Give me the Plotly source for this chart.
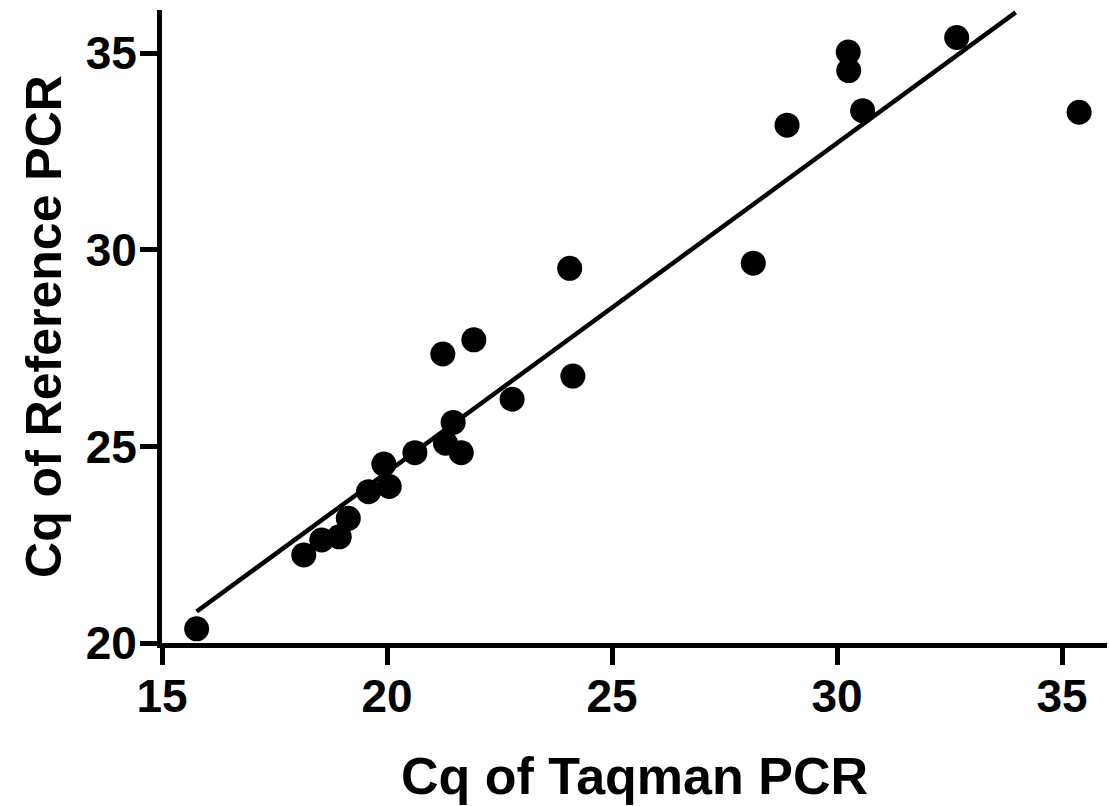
import plotly.graph_objects as go

taqman_cq = [15.77, 18.15, 18.55, 18.94, 19.14, 19.59, 20.05, 19.93, 20.62, 21.30,
             21.47, 21.65, 22.78, 21.24, 21.93, 24.13, 24.06, 28.14, 28.89, 30.25,
             30.26, 30.57, 32.66, 35.38]
reference_cq = [20.36, 22.24, 22.62, 22.70, 23.17, 23.85, 23.98, 24.55, 24.84, 25.08,
                25.61, 24.84, 26.20, 27.35, 27.71, 26.79, 29.53, 29.66, 33.17, 35.03,
                34.56, 33.54, 35.40, 33.50]

fit_x = [15.77, 33.97]
fit_y = [20.80, 36.04]

x_ticks = [15, 20, 25, 30, 35]
y_ticks = [20, 25, 30, 35]

fig = go.Figure()
fig.add_trace(go.Scatter(x=fit_x, y=fit_y, mode="lines",
                         line=dict(color="black", width=4.5), showlegend=False))
fig.add_trace(go.Scatter(x=taqman_cq, y=reference_cq, mode="markers",
                         marker=dict(color="black", size=25), showlegend=False))

font_tick = dict(family="Liberation Sans, Arial", size=46, color="black", weight="bold")
font_xtitle = dict(family="Liberation Sans, Arial", size=52, color="black", weight="bold")
font_ytitle = dict(family="Liberation Sans, Arial", size=50, color="black", weight="bold")

fig.update_layout(
    width=1109, height=806,
    margin=dict(l=162, r=2, t=10, b=163),
    plot_bgcolor="white", paper_bgcolor="white",
    xaxis=dict(range=[15, 36], tickvals=x_ticks, showgrid=False, zeroline=False,
               showline=True, linecolor="black", linewidth=5, automargin=False,
               ticks="outside", ticklen=17, tickwidth=5, tickcolor="black",
               tickfont=font_tick, ticklabelstandoff=-8,
               title=dict(text="Cq of Taqman PCR", font=font_xtitle, standoff=38)),
    yaxis=dict(range=[20, 36.1], tickvals=y_ticks, showgrid=False, zeroline=False,
               showline=True, linecolor="black", linewidth=5, automargin=False,
               ticks="outside", ticklen=17, tickwidth=5, tickcolor="black",
               tickfont=font_tick, ticklabelstandoff=-6,
               title=dict(text="Cq of Reference PCR", font=font_ytitle, standoff=10)),
)

fig.write_html("out.html", config={"displayModeBar": False},
               post_script="document.body.style.margin='0';document.body.style.overflow='hidden';")
